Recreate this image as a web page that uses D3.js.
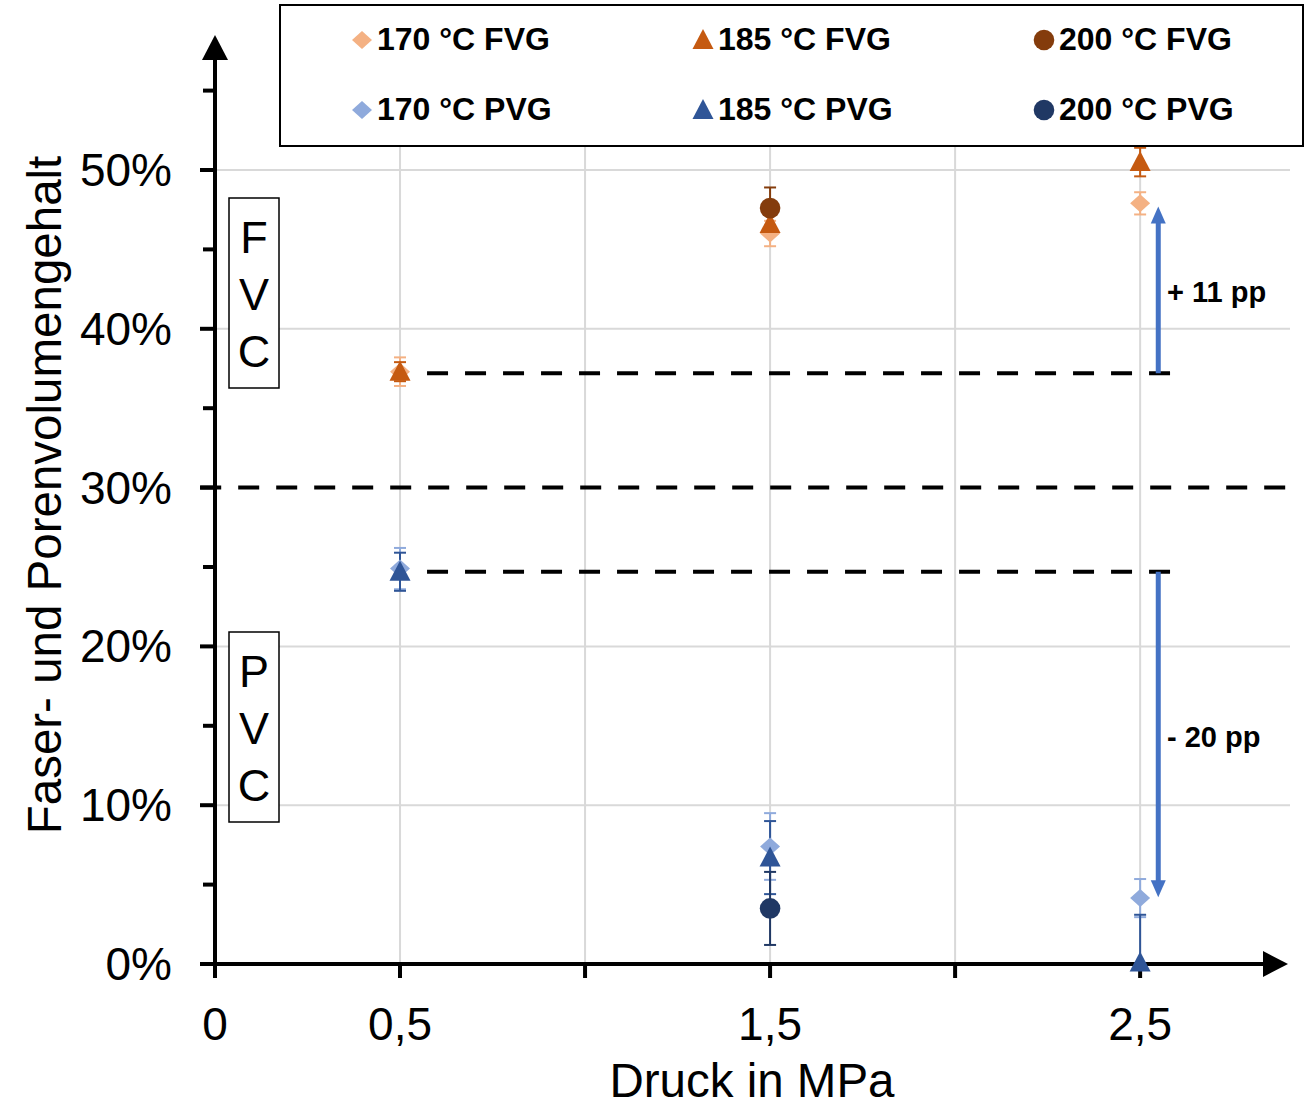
<!DOCTYPE html>
<html>
<head>
<meta charset="utf-8">
<title>Faser- und Porenvolumengehalt</title>
<script src="https://d3js.org/d3.v7.min.js"></script>
<style>
	body { margin: 0; background: #fff; }
	svg { display: block; font-family: "Liberation Sans", Arial, sans-serif; }
	.grid line { stroke: #d9d9d9; stroke-width: 2; }
	.tick-label { font-size: 46px; fill: #000; }
	.axis-title { font-size: 47.5px; fill: #000; }
	.legend-text { font-size: 32px; font-weight: bold; fill: #000; }
	.note { font-size: 29px; font-weight: bold; fill: #000; }
	.box-letter { font-size: 45px; fill: #000; }
</style>
</head>
<body>
<svg id="chart" width="1312" height="1103"></svg>
<script>
	// pressure levels (MPa)
	var pressure = [0.5, 1.5, 2.5];

	// values in %, null = not measured
	var fvg170 = [37.3, 46.0, 47.9];
	var fvg185 = [37.3, 46.6, 50.5];
	var fvg200 = [null, 47.6, null];
	var pvg170 = [24.9, 7.4, 4.15];
	var pvg185 = [24.7, 6.7, 0.1];
	var pvg200 = [null, 3.5, null];

	// standard deviations in %
	var fvg170Err = [0.9, 0.8, 0.7];
	var fvg185Err = [0.6, 0.6, 0.9];
	var fvg200Err = [null, 1.3, null];
	var pvg170Err = [1.3, 2.1, 1.2];
	var pvg185Err = [1.2, 2.3, 3.0];
	var pvg200Err = [null, 2.3, null];

	var seriesNames = ["170 °C FVG", "185 °C FVG", "200 °C FVG", "170 °C PVG", "185 °C PVG", "200 °C PVG"];

	var xTicks = [0, 0.5, 1, 1.5, 2, 2.5];
	var xTickLabels = ["0", "0,5", "", "1,5", "", "2,5"];
	var yTicks = [0, 10, 20, 30, 40, 50];
	var yMinorTicks = [5, 15, 25, 35, 45, 55];

	// horizontal dashed reference levels (%)
	var refLevels = [30, 37.2, 24.7];
	// change arrows: from level -> to level, with label
	var changeFrom = [37.2, 24.7];
	var changeTo = [47.7, 4.2];
	var changeLabels = ["+ 11 pp", "- 20 pp"];

	var colors = ["#F4B183", "#C55A11", "#843C0C", "#8FAADC", "#2F5597", "#203864"];
	var shapes = ["diamond", "triangle", "circle", "diamond", "triangle", "circle"];
	var values = [fvg170, fvg185, fvg200, pvg170, pvg185, pvg200];
	var errors = [fvg170Err, fvg185Err, fvg200Err, pvg170Err, pvg185Err, pvg200Err];

	var series = seriesNames.map(function(n, i){
		return {name: n, color: colors[i], shape: shapes[i],
			points: pressure.map(function(p, j){
				return {x: p, y: values[i][j], e: errors[i][j]};
			}).filter(function(d){ return d.y != null; })};
	});

	var svg = d3.select("#chart");

	var x = d3.scaleLinear().domain([0, 2.905]).range([215, 1290]);
	var y = d3.scaleLinear().domain([0, 50]).range([964, 170]);
	var yTop = 58.5;

	function shapePath(s){
		if (s == "diamond") return "M0,-9L10,0L0,9L-10,0Z";
		if (s == "triangle") return "M0,-11L10.5,9L-10.5,9Z";
		return d3.symbol(d3.symbolCircle, Math.PI * 10.3 * 10.3)();
	}

	// gridlines
	var grid = svg.append("g").attr("class", "grid");
	grid.selectAll(".h").data(yTicks.filter(function(d){ return d > 0 && d != 30; }))
		.enter().append("line")
		.attr("x1", x(0)).attr("x2", x(2.905))
		.attr("y1", function(d){ return y(d); }).attr("y2", function(d){ return y(d); });
	grid.selectAll(".v").data(xTicks.filter(function(d){ return d > 0; }))
		.enter().append("line")
		.attr("x1", function(d){ return x(d); }).attr("x2", function(d){ return x(d); })
		.attr("y1", y(0)).attr("y2", y(yTop));

	// dashed reference lines
	svg.selectAll(".ref").data(refLevels).enter().append("line")
		.attr("x1", function(d, i){ return i == 0 ? x(-0.04) : x(0.573); })
		.attr("x2", function(d, i){ return i == 0 ? x(2.905) : x(2.584); })
		.attr("y1", function(d){ return y(d); }).attr("y2", function(d){ return y(d); })
		.attr("stroke", "#000").attr("stroke-width", 4)
		.attr("stroke-dasharray", "21,17");

	// error bars
	series.forEach(function(s){
		var g = svg.append("g").attr("stroke", s.color).attr("stroke-width", 2);
		s.points.forEach(function(p){
			var cx = x(p.x);
			var lo = Math.max(p.y - p.e, 0), hi = p.y + p.e;
			g.append("line").attr("x1", cx).attr("x2", cx).attr("y1", y(lo)).attr("y2", y(hi));
			g.append("line").attr("x1", cx - 6).attr("x2", cx + 6).attr("y1", y(hi)).attr("y2", y(hi));
			if (p.y - p.e > 0)
				g.append("line").attr("x1", cx - 6).attr("x2", cx + 6).attr("y1", y(lo)).attr("y2", y(lo));
		});
	});

	// axes
	var axes = svg.append("g").attr("stroke", "#000").attr("stroke-width", 4);
	axes.append("line").attr("x1", x(0)).attr("x2", x(0)).attr("y1", y(0) + 2).attr("y2", y(yTop) + 20);
	axes.append("line").attr("x1", x(0) - 15).attr("x2", x(2.905) - 20).attr("y1", y(0)).attr("y2", y(0));
	axes.selectAll(".yt").data(yTicks).enter().append("line")
		.attr("x1", x(0) - 15).attr("x2", x(0))
		.attr("y1", function(d){ return y(d); }).attr("y2", function(d){ return y(d); });
	axes.selectAll(".ym").data(yMinorTicks).enter().append("line")
		.attr("x1", x(0) - 12).attr("x2", x(0))
		.attr("y1", function(d){ return y(d); }).attr("y2", function(d){ return y(d); });
	axes.selectAll(".xt").data(xTicks).enter().append("line")
		.attr("x1", function(d){ return x(d); }).attr("x2", function(d){ return x(d); })
		.attr("y1", y(0)).attr("y2", y(0) + 14);
	// arrow heads
	svg.append("path")
		.attr("d", "M" + x(0) + "," + y(yTop) + "l13,25l-26,0Z").attr("fill", "#000");
	svg.append("path")
		.attr("d", "M" + (x(2.905) - 2) + "," + y(0) + "l-25,-13l0,26Z").attr("fill", "#000");

	// tick labels
	svg.selectAll(".ylab").data(yTicks).enter().append("text")
		.attr("class", "tick-label")
		.attr("x", 172).attr("y", function(d){ return y(d) + 16; })
		.attr("text-anchor", "end")
		.text(function(d){ return d + "%"; });
	svg.selectAll(".xlab").data(xTicks).enter().append("text")
		.attr("class", "tick-label")
		.attr("x", function(d){ return x(d); }).attr("y", 1040)
		.attr("text-anchor", "middle")
		.text(function(d, i){ return xTickLabels[i]; });

	// axis titles
	svg.append("text").attr("class", "axis-title")
		.attr("x", 752).attr("y", 1097).attr("text-anchor", "middle")
		.text("Druck in MPa");
	svg.append("text").attr("class", "axis-title")
		.attr("transform", "translate(61,495) rotate(-90)")
		.attr("text-anchor", "middle")
		.text("Faser- und Porenvolumengehalt");

	// FVC / PVC boxes
	[["F", "V", "C", 198], ["P", "V", "C", 632]].forEach(function(b){
		svg.append("rect").attr("x", 229).attr("y", b[3]).attr("width", 50).attr("height", 190)
			.attr("fill", "#fff").attr("stroke", "#000").attr("stroke-width", 1.5);
		for (var i = 0; i < 3; i++)
			svg.append("text").attr("class", "box-letter")
				.attr("x", 254).attr("y", b[3] + 55 + i * 57)
				.attr("text-anchor", "middle").text(b[i]);
	});

	// markers
	series.forEach(function(s){
		svg.append("g").selectAll("path").data(s.points).enter().append("path")
			.attr("d", shapePath(s.shape))
			.attr("transform", function(d){ return "translate(" + x(d.x) + "," + y(d.y) + ")"; })
			.attr("fill", s.color);
	});

	// change arrows
	var arrowX = x(2.549);
	changeFrom.forEach(function(f, i){
		var t = changeTo[i];
		var dir = t > f ? 1 : -1;
		var tip = y(t);
		svg.append("line").attr("x1", arrowX).attr("x2", arrowX)
			.attr("y1", y(f)).attr("y2", tip + dir * 14)
			.attr("stroke", "#4472C4").attr("stroke-width", 5);
		svg.append("path")
			.attr("d", "M" + arrowX + "," + tip + "l7.5," + (dir * 17) + "l-15,0Z")
			.attr("fill", "#4472C4");
		svg.append("text").attr("class", "note")
			.attr("x", 1167).attr("y", i == 0 ? 302 : 747)
			.text(changeLabels[i]);
	});

	// legend
	var legend = svg.append("g");
	legend.append("rect").attr("x", 280).attr("y", 5).attr("width", 1023).attr("height", 141)
		.attr("fill", "#fff").attr("stroke", "#000").attr("stroke-width", 2);
	var colX = [362, 703, 1044];
	var rowY = [40, 110];
	series.forEach(function(s, i){
		var cx = colX[i % 3], cy = rowY[Math.floor(i / 3)];
		legend.append("path").attr("d", shapePath(s.shape))
			.attr("transform", "translate(" + cx + "," + cy + ")")
			.attr("fill", s.color);
		legend.append("text").attr("class", "legend-text")
			.attr("x", cx + 15).attr("y", cy + 10)
			.text(s.name);
	});
</script>
</body>
</html>
